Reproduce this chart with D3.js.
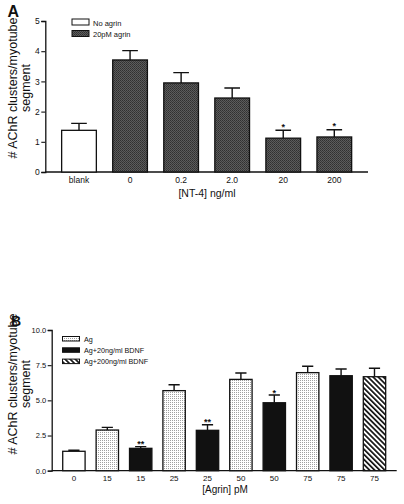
<!DOCTYPE html>
<html>
<head>
<meta charset="utf-8">
<script src="https://cdn.jsdelivr.net/npm/d3@7"></script>
<style>
body { margin:0; background:#fff; }
text { font-family: "Liberation Sans", Arial, Helvetica, sans-serif; fill:#111; }
</style>
</head>
<body>
<svg id="chart" width="404" height="504"></svg>
<script>
// ---------- Panel A data ----------
const catsA = ["blank", "0", "0.2", "2.0", "20", "200"];
const valsA = [1.38, 3.71, 2.95, 2.45, 1.12, 1.16];
const errA  = [1.61, 4.02, 3.29, 2.78, 1.38, 1.40];
const groupA = ["none", "agrin", "agrin", "agrin", "agrin", "agrin"];
const starsA = ["", "", "", "", "*", "*"];
const ticksA = [0, 1, 2, 3, 4, 5];
const legendA = ["No agrin", "20pM agrin"];

// ---------- Panel B data ----------
const catsB = ["0", "15", "15", "25", "25", "50", "50", "75", "75", "75"];
const valsB = [1.38, 2.89, 1.59, 5.69, 2.87, 6.49, 4.83, 6.97, 6.75, 6.68];
const errB  = [1.45, 3.08, 1.71, 6.11, 3.27, 6.94, 5.38, 7.42, 7.23, 7.28];
const groupB = ["none", "ag", "bdnf20", "ag", "bdnf20", "ag", "bdnf20", "ag", "bdnf20", "bdnf200"];
const starsB = ["", "", "**", "", "**", "", "*", "", "", ""];
const ticksB = [0, 2.5, 5, 7.5, 10];
const legendB = ["Ag", "Ag+20ng/ml BDNF", "Ag+200ng/ml BDNF"];

const svg = d3.select("#chart");
const defs = svg.append("defs");

// dark stipple (panel A agrin): fine checkerboard
const pDark = defs.append("pattern").attr("id", "dark").attr("width", 2).attr("height", 2)
  .attr("patternUnits", "userSpaceOnUse");
pDark.append("rect").attr("width", 2).attr("height", 2).attr("fill", "#5c5c5c");
pDark.append("rect").attr("x", 0).attr("y", 0).attr("width", 1).attr("height", 1).attr("fill", "#303030");
pDark.append("rect").attr("x", 1).attr("y", 1).attr("width", 1).attr("height", 1).attr("fill", "#3a3a3a");

// light dotted (panel B Ag)
const pLight = defs.append("pattern").attr("id", "light").attr("width", 2).attr("height", 2)
  .attr("patternUnits", "userSpaceOnUse");
pLight.append("rect").attr("width", 2).attr("height", 2).attr("fill", "#fff");
pLight.append("rect").attr("width", 1).attr("height", 1).attr("fill", "#a0a0a0");

// hatch (panel B 200 BDNF), lines running top-left to bottom-right
const pHatch = defs.append("pattern").attr("id", "hatch").attr("width", 3.6).attr("height", 3.6)
  .attr("patternUnits", "userSpaceOnUse").attr("patternTransform", "rotate(-45)");
pHatch.append("rect").attr("width", 3.6).attr("height", 3.6).attr("fill", "#fff");
pHatch.append("rect").attr("x", 0).attr("width", 1.7).attr("height", 3.6).attr("fill", "#111");

const fills = { none: "#fff", agrin: "url(#dark)", ag: "url(#light)", bdnf20: "#111", bdnf200: "url(#hatch)" };

function panel(cfg) {
  const g = svg.append("g");
  const x = d3.scaleBand().domain(d3.range(cfg.cats.length)).range([cfg.x0, cfg.x1])
    .paddingInner(cfg.pad).paddingOuter(cfg.pad);
  const y = d3.scaleLinear().domain([0, cfg.ymax]).range([cfg.y0, cfg.y1]);

  // y axis
  const ya = g.append("g").attr("transform", `translate(${cfg.x0},0)`)
    .call(d3.axisLeft(y).tickValues(cfg.ticks).tickFormat(cfg.fmt).tickSize(4).tickPadding(1.5));
  ya.select(".domain").attr("stroke", "#111").attr("stroke-width", 1.3);
  ya.selectAll(".tick line").attr("stroke", "#111").attr("stroke-width", 1.1);
  ya.selectAll(".tick text").style("font-size", cfg.tickFont + "px").attr("fill", "#111");

  // x axis
  const xa = g.append("g").attr("transform", `translate(0,${cfg.y0})`)
    .call(d3.axisBottom(x).tickSize(0).tickPadding(cfg.xPad).tickFormat(i => cfg.cats[i]));
  xa.select(".domain").attr("stroke", "#111").attr("stroke-width", 1.3).attr("d", `M${cfg.x0},0H${cfg.x1}`);
  xa.selectAll(".tick text").style("font-size", cfg.xFont + "px").attr("fill", "#111");

  const idx = d3.range(cfg.cats.length);
  // error bars (upper only)
  const capW = x.bandwidth() * cfg.cap;
  g.selectAll(".err").data(idx).enter().append("path")
    .attr("d", i => {
      const cx = x(i) + x.bandwidth() / 2;
      return `M${cx},${y(cfg.vals[i])}V${y(cfg.err[i])}M${cx - capW / 2},${y(cfg.err[i])}H${cx + capW / 2}`;
    })
    .attr("stroke", "#111").attr("stroke-width", 1.4).attr("fill", "none");

  // bars
  g.selectAll(".bar").data(idx).enter().append("rect")
    .attr("x", i => x(i)).attr("width", x.bandwidth())
    .attr("y", i => y(cfg.vals[i])).attr("height", i => y(0) - y(cfg.vals[i]))
    .attr("fill", i => fills[cfg.group[i]]).attr("stroke", "#111").attr("stroke-width", 1.3);

  // stars
  g.selectAll(".star").data(idx.filter(i => cfg.stars[i])).enter().append("text")
    .attr("x", i => x(i) + x.bandwidth() / 2).attr("y", i => y(cfg.err[i]) + cfg.starOff)
    .attr("text-anchor", "middle").style("font-size", "9px").style("font-weight", "bold")
    .text(i => cfg.stars[i]);

  // x title
  g.append("text").attr("x", cfg.xtX).attr("y", cfg.xtY).attr("text-anchor", "middle")
    .style("font-size", cfg.xtFont + "px").text(cfg.xtitle);

  // y title
  const yt = g.append("text").attr("transform", `translate(${cfg.ytX},${cfg.ytY}) rotate(-90)`)
    .attr("text-anchor", "middle").style("font-size", "12.5px");
  yt.append("tspan").attr("x", 0).attr("dy", 0).text("# AChR clusters/myotube");
  yt.append("tspan").attr("x", 0).attr("dy", 13.5).text("segment");

  // panel letter
  g.append("text").attr("x", cfg.lx).attr("y", cfg.ly).style("font-size", cfg.lFont + "px")
    .style("font-weight", "bold").text(cfg.letter);

  // legend
  cfg.legend.forEach((lab, k) => {
    const ly = cfg.legY + k * cfg.legStep;
    g.append("rect").attr("x", cfg.legX).attr("y", ly).attr("width", 17).attr("height", cfg.legH)
      .attr("fill", fills[cfg.legGroups[k]]).attr("stroke", "#111").attr("stroke-width", 1);
    g.append("text").attr("x", cfg.legX + cfg.legTx).attr("y", ly + cfg.legH + 0.5)
      .style("font-size", cfg.legFont + "px").text(lab);
  });
}

panel({
  cats: catsA, vals: valsA, err: errA, group: groupA, stars: starsA,
  ticks: ticksA, fmt: d3.format("d"), ymax: 5,
  x0: 45.3, x1: 368, y0: 172, y1: 21, pad: 0.32, cap: 0.45,
  tickFont: 8.5, xFont: 8.5, xPad: 5,
  starOff: -0.5,
  xtitle: "[NT-4] ng/ml", xtX: 207, xtY: 197, xtFont: 10.5,
  ytX: 16.5, ytY: 88, letter: "A", lx: 7.5, ly: 17, lFont: 16,
  legend: legendA, legGroups: ["none", "agrin"], legX: 72, legY: 19, legStep: 11.5, legH: 6,
  legTx: 21, legFont: 7.5
});

panel({
  cats: catsB, vals: valsB, err: errB, group: groupB, stars: starsB,
  ticks: ticksB, fmt: d3.format(".1f"), ymax: 10,
  x0: 51.7, x1: 396.7, y0: 470.7, y1: 330, pad: 0.33, cap: 0.5,
  tickFont: 7.5, xFont: 8, xPad: 5,
  starOff: 0.5,
  xtitle: "[Agrin] pM", xtX: 225, xtY: 493, xtFont: 10,
  ytX: 16.5, ytY: 384, letter: "B", lx: 11, ly: 326, lFont: 14,
  legend: legendB, legGroups: ["ag", "bdnf20", "bdnf200"], legX: 62.5, legY: 336.5, legStep: 11.3, legH: 4.5,
  legTx: 21.5, legFont: 7.2
});
</script>
</body>
</html>
